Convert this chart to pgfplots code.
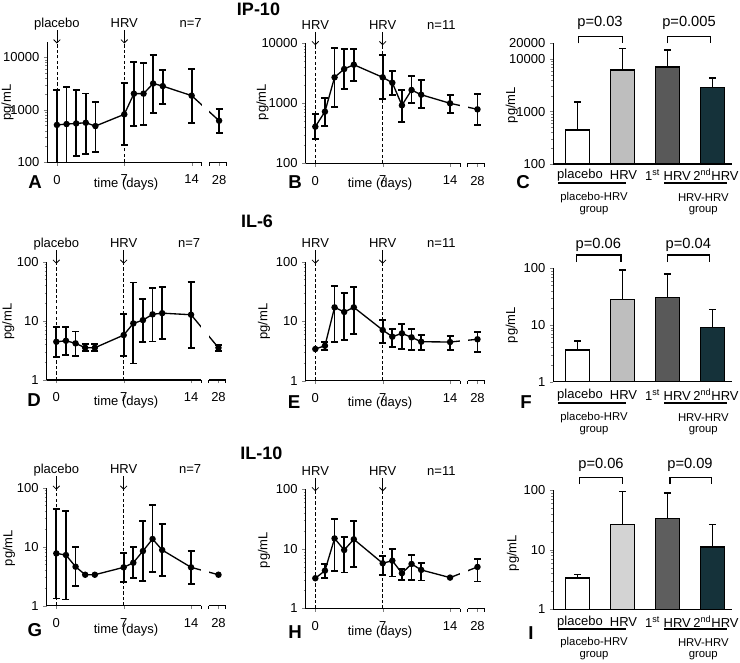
\documentclass[border=0pt]{standalone}
\usepackage{fontspec}
\setmainfont{Liberation Sans}
\usepackage{pgfplots}
\usepackage{pgfplotstable}
\pgfplotsset{compat=1.18}
\usetikzlibrary{arrows.meta}

\definecolor{gA}{HTML}{BEBEBE}
\definecolor{gB}{HTML}{595959}
\definecolor{gC}{HTML}{15323A}
\definecolor{gL}{HTML}{D3D3D3}
\definecolor{gD}{HTML}{5E5E5E}

\newcommand{\fs}{\fontsize{9.75}{11.5}\selectfont}
\newcommand{\fg}{\fontsize{8.5}{10}\selectfont}
\newcommand{\fp}{\fontsize{11}{13}\selectfont}
\newcommand{\fl}{\bfseries\fontsize{14}{16}\selectfont}
\newcommand{\ft}{\bfseries\fontsize{13.5}{15}\selectfont}

\newcommand{\mydecor}[5]{%
  \draw[line width=0.6pt, dash pattern=on 2.5pt off 1.6pt] (axis cs:0,#1) -- (axis cs:0,#2);
  \draw[line width=0.6pt, dash pattern=on 2.5pt off 1.6pt] (axis cs:7,#1) -- (axis cs:7,#2);
  \draw[line width=0.6pt, -{Straight Barb[length=2.5pt,width=5pt]}] ([yshift=8.5pt]axis cs:0,#2) -- ([yshift=-1.5pt]axis cs:0,#2);
  \draw[line width=0.6pt, -{Straight Barb[length=2.5pt,width=5pt]}] ([yshift=8.5pt]axis cs:7,#2) -- ([yshift=-1.5pt]axis cs:7,#2);
  \node[font=\fs, anchor=base] at ([yshift=10.5pt]axis cs:0,#2) {#3};
  \node[font=\fs, anchor=base] at ([yshift=10.5pt]axis cs:7,#2) {HRV};
  \node[font=\fs, anchor=base] at ([yshift=10.5pt]axis cs:#5,#2) {#4};
}
\newcommand{\mybrk}[2]{%
  \fill[white] ([yshift=-2pt]axis cs:15.05,#1) rectangle ([yshift=-0.7pt]axis cs:15.85,#2);
  \draw[line width=0.8pt] (axis cs:15.05,#1) -- ([yshift=-2.5pt]axis cs:15.05,#1);
  \draw[line width=0.8pt] (axis cs:15.85,#1) -- ([yshift=-2.5pt]axis cs:15.85,#1);
  \draw[line width=0.8pt] (axis cs:17.6,#1) -- ([yshift=-2.5pt]axis cs:17.6,#1);
}

% ---------- data: time courses (x = day; day 28 drawn at 16.85) ----------
\pgfplotstableread{
x y t b
0 515 2380 90
1 535 2690 90
2 550 2350 132
3 567 2040 144
4 490 1430 159
7 820 3280 213
8 2030 8130 490
9 2030 7890 520
10 3170 11000 880
11 2830 5800 1310
14 1860 6000 560
16.85 620 1050 365
}\tabA
\pgfplotstableread{
x y t b
0 408 656 251
1 726 1210 418
2 2710 8250 858
3 3730 8040 1730
4 4400 8040 2380
7 2710 6390 1166
8 2200 3450 1390
9 926 1667 494
10 1667 2850 1023
11 1390 2415 836
14 1000 1390 688
16.85 794 1410 430
}\tabB
\pgfplotstableread{
x y t b
0 4.43 7.95 2.48
1 4.61 7.95 2.64
2 4.17 6.64 2.57
3 3.51 4.06 3.09
4 3.51 4.06 3.09
7 5.75 13.0 2.57
8 9.06 44.7 1.91
9 10.3 23.6 4.38
10 12.9 36.2 4.5
11 13.5 37.7 4.92
14 12.7 45.7 3.51
16.85 3.51 3.9 3.09
}\tabD
\pgfplotstableread{
x y
0 3.41
1 3.87
2 17.1
3 14.3
4 17.1
7 7.11
8 5.49
9 6.25
10 5.36
11 4.52
14 4.47
16.85 4.97
}\tabE
\pgfplotstableread{
x y t b
1 3.87 4.52 3.28
2 17.1 39.5 4.47
3 14.3 30.1 4.83
4 17.1 38 6.17
7 7.11 10.5 4.35
8 5.49 7.39 3.68
9 6.25 9.08 3.45
10 5.36 7.39 3.28
11 4.52 5.86 3.28
14 4.47 5.64 3.28
16.85 4.97 6.66 3.07
}\tabEe
\pgfplotstableread{
x y
0 7.7
1 7.23
2 4.58
3 3.35
4 3.35
7 4.47
8 5.35
9 8.45
10 13.5
11 8.79
14 4.47
16.85 3.35
}\tabG
\pgfplotstableread{
x y t b
0 7.7 43.5 1.33
1 7.23 39.8 1.28
2 4.58 10 2.16
7 4.47 7.73 2.49
8 5.35 9.77 2.95
9 8.45 27.3 2.66
10 13.5 50.9 3.68
11 8.79 24 3.19
14 4.47 8.45 2.33
}\tabGe
\pgfplotstableread{
x y
0 3.22
1 4.32
2 15.0
3 9.59
4 14.5
7 5.74
8 6.35
9 3.91
10 5.59
11 4.44
14 3.3
16.85 4.98
}\tabH
\pgfplotstableread{
x y t b
1 4.32 5.59 3.22
2 15.0 31.7 4.32
3 9.59 16 4.0
4 14.5 29.6 4.92
7 5.74 7.7 3.7
8 6.35 9.96 3.43
9 3.91 4.61 3.02
10 5.59 7.9 3.02
11 4.44 5.74 2.94
16.85 4.98 6.86 2.83
}\tabHe

\begin{document}
\begin{tikzpicture}
\path[use as bounding box] (0,0) rectangle (555pt,-496.5pt);
\begin{scope}[x=0.75pt,y=-0.75pt]
\coordinate (pA) at (47.3,162.3);
\coordinate (pB) at (305.7,163.3);
\coordinate (pC) at (553.3,164);
\coordinate (pD) at (46.7,380);
\coordinate (pE) at (305.7,380.7);
\coordinate (pF) at (553.3,381.7);
\coordinate (pG) at (46.7,605.7);
\coordinate (pH) at (305.7,608.5);
\coordinate (pI) at (553.3,609.5);
\end{scope}

% ---------------- A ----------------
\begin{axis}[scale only axis, ymode=log, axis lines*=left, axis line style={-, line width=1.1pt},
  tick label style={font=\fs}, xticklabel style={yshift=-3.5pt}, tick align=outside, major tick length=2.5pt, minor tick length=1.5pt,
  clip mode=individual,
  xmin=-1, xmax=17.6, width=134.25pt, xtick={0,7,14,16.85}, xticklabels={0,7,14,28},
  at={(pA)}, anchor=south west, height=90.6pt,
  ymin=100, ymax=20000, ytick={100,1000,10000}, yticklabels={100,1000,10000},
  minor ytick={200,300,400,500,600,700,800,900,2000,3000,4000,5000,6000,7000,8000,9000}]
\mydecor{100}{20000}{placebo}{n=7}{13.9}
\addplot[draw=none, mark=none, forget plot, error bars/.cd, y dir=both, y explicit,
  error bar style={draw=black, line width=1.3pt},
  error mark options={draw=black, rotate=90, mark size=2.6pt, line width=1.3pt}]
  table[x=x, y=y, y error plus expr=\thisrow{t}-\thisrow{y}, y error minus expr=\thisrow{y}-\thisrow{b}] {\tabA};
\addplot[black, line width=1pt, mark=*, mark size=1.9pt] table[x=x, y=y] {\tabA};
\mybrk{100}{20000}
\end{axis}

% ---------------- B ----------------
\begin{axis}[scale only axis, ymode=log, axis lines*=left, axis line style={-, line width=1.1pt},
  tick label style={font=\fs}, xticklabel style={yshift=-3.5pt}, tick align=outside, major tick length=2.5pt, minor tick length=1.5pt,
  clip mode=individual,
  xmin=-1, xmax=17.6, width=134.25pt, xtick={0,7,14,16.85}, xticklabels={0,7,14,28},
  at={(pB)}, anchor=south west, height=90pt,
  ymin=100, ymax=10000, ytick={100,1000,10000}, yticklabels={100,1000,10000},
  minor ytick={200,300,400,500,600,700,800,900,2000,3000,4000,5000,6000,7000,8000,9000}]
\mydecor{100}{10000}{HRV}{n=11}{13.1}
\addplot[draw=none, mark=none, forget plot, error bars/.cd, y dir=both, y explicit,
  error bar style={draw=black, line width=1.3pt},
  error mark options={draw=black, rotate=90, mark size=2.6pt, line width=1.3pt}]
  table[x=x, y=y, y error plus expr=\thisrow{t}-\thisrow{y}, y error minus expr=\thisrow{y}-\thisrow{b}] {\tabB};
\addplot[black, line width=1pt, mark=*, mark size=1.9pt] table[x=x, y=y] {\tabB};
\mybrk{100}{10000}
\end{axis}

% ---------------- C ----------------
\begin{axis}[scale only axis, ymode=log, log origin=infty, axis lines*=left, axis line style={-, line width=1.1pt},
  tick label style={font=\fs}, tick align=outside, major tick length=2.5pt, minor tick length=1.5pt,
  clip mode=individual,
  xmin=-0.54, xmax=3.43, width=133.8pt, xtick=\empty,
  at={(pC)}, anchor=south west, height=90.5pt,
  ymin=100, ymax=20000, ytick={100,1000,10000,20000}, yticklabels={100,1000,10000,20000},
  minor ytick={200,300,400,500,600,700,800,900,2000,3000,4000,5000,6000,7000,8000,9000}]
\addplot[ybar, bar shift=0pt, bar width=18.2pt, fill=white, draw=black, line width=1.1pt,
  error bars/.cd, y dir=plus, y explicit, error bar style={draw=black, line width=1.1pt},
  error mark options={draw=black, rotate=90, mark size=2.6pt, line width=1.1pt}]
  coordinates {(0,446) +- (0,1078)};
\addplot[ybar, bar shift=0pt, bar width=18.2pt, fill=gA, draw=black, line width=1.1pt,
  error bars/.cd, y dir=plus, y explicit, error bar style={draw=black, line width=1.1pt},
  error mark options={draw=black, rotate=90, mark size=2.6pt, line width=1.1pt}]
  coordinates {(1,6210) +- (0,9750)};
\addplot[ybar, bar shift=0pt, bar width=18.2pt, fill=gB, draw=black, line width=1.1pt,
  error bars/.cd, y dir=plus, y explicit, error bar style={draw=black, line width=1.1pt},
  error mark options={draw=black, rotate=90, mark size=2.6pt, line width=1.1pt}]
  coordinates {(2,7020) +- (0,7780)};
\addplot[ybar, bar shift=0pt, bar width=18.2pt, fill=gC, draw=black, line width=1.1pt,
  error bars/.cd, y dir=plus, y explicit, error bar style={draw=black, line width=1.1pt},
  error mark options={draw=black, rotate=90, mark size=2.6pt, line width=1.1pt}]
  coordinates {(3,2900) +- (0,1440)};
\end{axis}

% ---------------- D ----------------
\begin{axis}[scale only axis, ymode=log, axis lines*=left, axis line style={-, line width=1.1pt},
  tick label style={font=\fs}, xticklabel style={yshift=-3.5pt}, tick align=outside, major tick length=2.5pt, minor tick length=1.5pt,
  clip mode=individual,
  xmin=-1, xmax=17.6, width=134.25pt, xtick={0,7,14,16.85}, xticklabels={0,7,14,28},
  at={(pD)}, anchor=south west, height=88.7pt,
  ymin=1, ymax=100, ytick={1,10,100}, yticklabels={1,10,100},
  minor ytick={2,3,4,5,6,7,8,9,20,30,40,50,60,70,80,90}]
\mydecor{1}{100}{placebo}{n=7}{13.8}
\addplot[draw=none, mark=none, forget plot, error bars/.cd, y dir=both, y explicit,
  error bar style={draw=black, line width=1.3pt},
  error mark options={draw=black, rotate=90, mark size=2.6pt, line width=1.3pt}]
  table[x=x, y=y, y error plus expr=\thisrow{t}-\thisrow{y}, y error minus expr=\thisrow{y}-\thisrow{b}] {\tabD};
\addplot[black, line width=1pt, mark=*, mark size=1.9pt] table[x=x, y=y] {\tabD};
\mybrk{1}{100}
\end{axis}

% ---------------- E ----------------
\begin{axis}[scale only axis, ymode=log, axis lines*=left, axis line style={-, line width=1.1pt},
  tick label style={font=\fs}, xticklabel style={yshift=-3.5pt}, tick align=outside, major tick length=2.5pt, minor tick length=1.5pt,
  clip mode=individual,
  xmin=-1, xmax=17.6, width=134.25pt, xtick={0,7,14,16.85}, xticklabels={0,7,14,28},
  at={(pE)}, anchor=south west, height=89.25pt,
  ymin=1, ymax=100, ytick={1,10,100}, yticklabels={1,10,100},
  minor ytick={2,3,4,5,6,7,8,9,20,30,40,50,60,70,80,90}]
\mydecor{1}{100}{HRV}{n=11}{13.1}
\addplot[draw=none, mark=none, forget plot, error bars/.cd, y dir=both, y explicit,
  error bar style={draw=black, line width=1.3pt},
  error mark options={draw=black, rotate=90, mark size=2.6pt, line width=1.3pt}]
  table[x=x, y=y, y error plus expr=\thisrow{t}-\thisrow{y}, y error minus expr=\thisrow{y}-\thisrow{b}] {\tabEe};
\addplot[black, line width=1pt, mark=*, mark size=1.9pt] table[x=x, y=y] {\tabE};
\mybrk{1}{100}
\end{axis}

% ---------------- F ----------------
\begin{axis}[scale only axis, ymode=log, log origin=infty, axis lines*=left, axis line style={-, line width=1.1pt},
  tick label style={font=\fs}, tick align=outside, major tick length=2.5pt, minor tick length=1.5pt,
  clip mode=individual,
  xmin=-0.54, xmax=3.43, width=133.8pt, xtick=\empty,
  at={(pF)}, anchor=south west, height=85pt,
  ymin=1, ymax=100, ytick={1,10,100}, yticklabels={1,10,100},
  minor ytick={2,3,4,5,6,7,8,9,20,30,40,50,60,70,80,90}]
\addplot[ybar, bar shift=0pt, bar width=18.2pt, fill=white, draw=black, line width=1.1pt,
  error bars/.cd, y dir=plus, y explicit, error bar style={draw=black, line width=1.1pt},
  error mark options={draw=black, rotate=90, mark size=2.6pt, line width=1.1pt}]
  coordinates {(0,3.62) +- (0,1.58)};
\addplot[ybar, bar shift=0pt, bar width=18.2pt, fill=gA, draw=black, line width=1.1pt,
  error bars/.cd, y dir=plus, y explicit, error bar style={draw=black, line width=1.1pt},
  error mark options={draw=black, rotate=90, mark size=2.6pt, line width=1.1pt}]
  coordinates {(1,28.4) +- (0,64.6)};
\addplot[ybar, bar shift=0pt, bar width=18.2pt, fill=gB, draw=black, line width=1.1pt,
  error bars/.cd, y dir=plus, y explicit, error bar style={draw=black, line width=1.1pt},
  error mark options={draw=black, rotate=90, mark size=2.6pt, line width=1.1pt}]
  coordinates {(2,30.3) +- (0,48.7)};
\addplot[ybar, bar shift=0pt, bar width=18.2pt, fill=gC, draw=black, line width=1.1pt,
  error bars/.cd, y dir=plus, y explicit, error bar style={draw=black, line width=1.1pt},
  error mark options={draw=black, rotate=90, mark size=2.6pt, line width=1.1pt}]
  coordinates {(3,8.96) +- (0,9.94)};
\end{axis}

% ---------------- G ----------------
\begin{axis}[scale only axis, ymode=log, axis lines*=left, axis line style={-, line width=1.1pt},
  tick label style={font=\fs}, xticklabel style={yshift=-3.5pt}, tick align=outside, major tick length=2.5pt, minor tick length=1.5pt,
  clip mode=individual,
  xmin=-1, xmax=17.6, width=134.25pt, xtick={0,7,14,16.85}, xticklabels={0,7,14,28},
  at={(pG)}, anchor=south west, height=88.5pt,
  ymin=1, ymax=100, ytick={1,10,100}, yticklabels={1,10,100},
  minor ytick={2,3,4,5,6,7,8,9,20,30,40,50,60,70,80,90}]
\mydecor{1}{100}{placebo}{n=7}{13.9}
\addplot[draw=none, mark=none, forget plot, error bars/.cd, y dir=both, y explicit,
  error bar style={draw=black, line width=1.3pt},
  error mark options={draw=black, rotate=90, mark size=2.6pt, line width=1.3pt}]
  table[x=x, y=y, y error plus expr=\thisrow{t}-\thisrow{y}, y error minus expr=\thisrow{y}-\thisrow{b}] {\tabGe};
\addplot[black, line width=1pt, mark=*, mark size=1.9pt] table[x=x, y=y] {\tabG};
\mybrk{1}{100}
\end{axis}

% ---------------- H ----------------
\begin{axis}[scale only axis, ymode=log, axis lines*=left, axis line style={-, line width=1.1pt},
  tick label style={font=\fs}, xticklabel style={yshift=-3.5pt}, tick align=outside, major tick length=2.5pt, minor tick length=1.5pt,
  clip mode=individual,
  xmin=-1, xmax=17.6, width=134.25pt, xtick={0,7,14,16.85}, xticklabels={0,7,14,28},
  at={(pH)}, anchor=south west, height=89.4pt,
  ymin=1, ymax=100, ytick={1,10,100}, yticklabels={1,10,100},
  minor ytick={2,3,4,5,6,7,8,9,20,30,40,50,60,70,80,90}]
\mydecor{1}{100}{HRV}{n=11}{13.1}
\addplot[draw=none, mark=none, forget plot, error bars/.cd, y dir=both, y explicit,
  error bar style={draw=black, line width=1.3pt},
  error mark options={draw=black, rotate=90, mark size=2.6pt, line width=1.3pt}]
  table[x=x, y=y, y error plus expr=\thisrow{t}-\thisrow{y}, y error minus expr=\thisrow{y}-\thisrow{b}] {\tabHe};
\addplot[black, line width=1pt, mark=*, mark size=1.9pt] table[x=x, y=y] {\tabH};
\mybrk{1}{100}
\end{axis}

% ---------------- I ----------------
\begin{axis}[scale only axis, ymode=log, log origin=infty, axis lines*=left, axis line style={-, line width=1.1pt},
  tick label style={font=\fs}, tick align=outside, major tick length=2.5pt, minor tick length=1.5pt,
  clip mode=individual,
  xmin=-0.54, xmax=3.43, width=133.8pt, xtick=\empty,
  at={(pI)}, anchor=south west, height=89.6pt,
  ymin=1, ymax=100, ytick={1,10,100}, yticklabels={1,10,100},
  minor ytick={2,3,4,5,6,7,8,9,20,30,40,50,60,70,80,90}]
\addplot[ybar, bar shift=0pt, bar width=18.2pt, fill=white, draw=black, line width=1.1pt,
  error bars/.cd, y dir=plus, y explicit, error bar style={draw=black, line width=1.1pt},
  error mark options={draw=black, rotate=90, mark size=2.6pt, line width=1.1pt}]
  coordinates {(0,3.38) +- (0,0.47)};
\addplot[ybar, bar shift=0pt, bar width=18.2pt, fill=gL, draw=black, line width=1.1pt,
  error bars/.cd, y dir=plus, y explicit, error bar style={draw=black, line width=1.1pt},
  error mark options={draw=black, rotate=90, mark size=2.6pt, line width=1.1pt}]
  coordinates {(1,26.4) +- (0,68.6)};
\addplot[ybar, bar shift=0pt, bar width=18.2pt, fill=gD, draw=black, line width=1.1pt,
  error bars/.cd, y dir=plus, y explicit, error bar style={draw=black, line width=1.1pt},
  error mark options={draw=black, rotate=90, mark size=2.6pt, line width=1.1pt}]
  coordinates {(2,33.3) +- (0,55.7)};
\addplot[ybar, bar shift=0pt, bar width=18.2pt, fill=gC, draw=black, line width=1.1pt,
  error bars/.cd, y dir=plus, y explicit, error bar style={draw=black, line width=1.1pt},
  error mark options={draw=black, rotate=90, mark size=2.6pt, line width=1.1pt}]
  coordinates {(3,11.1) +- (0,15.3)};
\end{axis}

% ---------------- annotations ----------------
\begin{scope}[x=0.75pt,y=-0.75pt]
\node[font=\ft] at (258.5,9.5) {IP-10};
\node[font=\ft] at (257,221) {IL-6};
\node[font=\ft] at (261.5,453) {IL-10};

\foreach \l/\x/\y in {A/35/181.7, B/295/181.7, C/523/181.7, D/34/400, E/294/401.7, F/526/401.7, G/35/630, H/295/631.7, I/531/632.7}
  \node[font=\fl] at (\x,\y) {\l};

\foreach \x/\y in {126/184.5, 380/184.5, 126/402.5, 380/403, 126/630, 380/632}
  \node[font=\fs, inner sep=0.5pt] at (\x,\y) {time (days)};

\foreach \x/\y in {7.5/102.5, 262.5/102, 511.7/105, 8.3/321.7, 264/321.7, 511.7/325, 9/548, 264/550, 513/553}
  \node[font=\fs, rotate=90] at (\x,\y) {pg/mL};

\foreach \yy/\uy/\ga/\gb in {175/182.7/197.3/210.7, 395/402.7/417.3/430.7, 621.7/629.3/642.7/656}{
  \node[font=\fs] at (580,\yy) {placebo};
  \node[font=\fs] at (623.5,\yy) {HRV};
  \node[font=\fs] at (668,\yy) {1\textsuperscript{st} HRV};
  \node[font=\fs] at (716,\yy) {2\textsuperscript{nd}HRV};
  \draw[line width=1.4pt] (558,\uy) -- (626,\uy);
  \draw[line width=1.4pt] (664,\uy) -- (727,\uy);
  \node[font=\fg] at (594,\ga) {placebo-HRV};
  \node[font=\fg] at (594,\gb) {group};
  \node[font=\fg] at (703.3,\ga) {HRV-HRV};
  \node[font=\fg] at (703.3,\gb) {group};
}

\draw[line width=0.8pt] (578.3,43.3) -- (578.3,36.7) -- (622.3,36.7) -- (622.3,43.3);
\draw[line width=0.8pt] (667.7,43.3) -- (667.7,36.7) -- (710.7,36.7) -- (710.7,43.3);
\node[font=\fp] at (600,23.3) {p=0.03};
\node[font=\fp] at (689,23.3) {p=0.005};

\draw[line width=0.8pt] (576.7,262) -- (576.7,255) -- (621,255) -- (621,262);
\draw[line width=0.8pt] (667.3,262) -- (667.3,255) -- (709.3,255) -- (709.3,262);
\node[font=\fp] at (598.3,245) {p=0.06};
\node[font=\fp] at (688.3,245) {p=0.04};

\draw[line width=0.8pt] (579.3,484) -- (579.3,477.3) -- (622.7,477.3) -- (622.7,484);
\draw[line width=0.8pt] (670,484) -- (670,477.3) -- (711.7,477.3) -- (711.7,484);
\node[font=\fp] at (601,465) {p=0.06};
\node[font=\fp] at (690,465) {p=0.09};
\end{scope}
\end{tikzpicture}
\end{document}
